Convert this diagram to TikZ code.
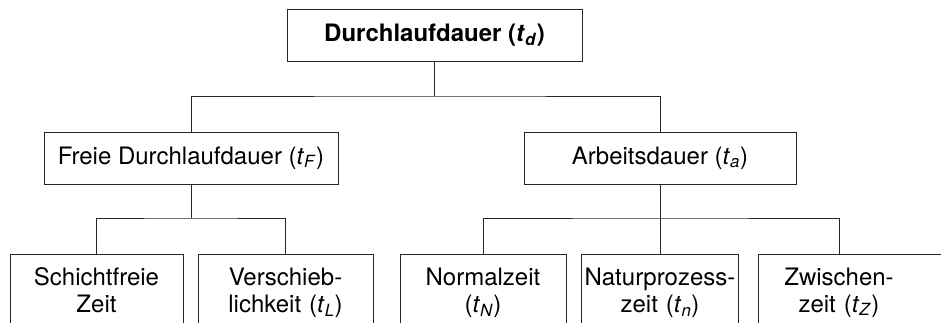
\documentclass[tikz,border=0pt]{standalone}
\usepackage{fontspec}
\setmainfont{TeX Gyre Heros}
\usepackage{tikz}
\usetikzlibrary{positioning}

\newcommand{\tidx}[1]{\textit{t}\textsubscript{\textit{#1}}}

\tikzset{
  box/.style={draw=black!85, line width=1pt, inner sep=0pt, align=center},
  leafbox/.style={box, anchor=north, text height=31pt, text depth=90pt},
  leaftext/.style={anchor=north, inner sep=0pt, align=center, text height=31pt},
  link/.style={draw=black!85, line width=1pt}
}

\begin{document}
\begin{tikzpicture}[x=1pt, y=-1pt, font=\fontsize{24}{27}\selectfont]
  \path[use as bounding box, clip] (0,0) rectangle (941,322);

  % top level
  \node[box, minimum width=295pt, minimum height=52pt] (total) at (434.5,35)
    {\textbf{Durchlaufdauer (\tidx{d})}};

  % second level
  \node[box, minimum width=294pt, minimum height=52pt] (frei) at (191,158)
    {Freie Durchlaufdauer (\tidx{F})};
  \node[box, minimum width=272pt, minimum height=52pt] (arbeit) at (660,158)
    {Arbeitsdauer (\tidx{a})};

  % third level
  \node[leafbox, text width=173pt] (schicht) at (96.5,254) {Schichtfreie\\Zeit};
  \node[leafbox, text width=175pt] (versch) at (285.5,254) {Verschieb-\\lichkeit (\tidx{L})};
  \node[leafbox, text width=166pt] (normal) at (483,254) {Normalzeit\\(\tidx{N})};
  \node[leafbox, text width=157pt] (natur) at (660,254) {Naturprozess-\\zeit (\tidx{n})};
  \node[leaftext, text width=166pt] (zwischen) at (839,254) {Zwischen-\\zeit (\tidx{Z})};
  \draw[link] (758,254) rectangle (960,400); % box runs off the right edge

  % connectors
  \coordinate (j0) at (434.5,96);
  \coordinate (j1) at (191,218);
  \coordinate (j2) at (660,218);
  \draw[link] (total.south) -- (j0);
  \draw[link] (frei.north) |- (j0) -| (arbeit.north);
  \draw[link] (frei.south) -- (j1);
  \draw[link] (schicht.north) |- (j1) -| (versch.north);
  \draw[link] (arbeit.south) -- (j2);
  \draw[link] (normal.north) |- (j2) -| (zwischen.north);
  \draw[link] (j2) -- (natur.north);
\end{tikzpicture}
\end{document}
